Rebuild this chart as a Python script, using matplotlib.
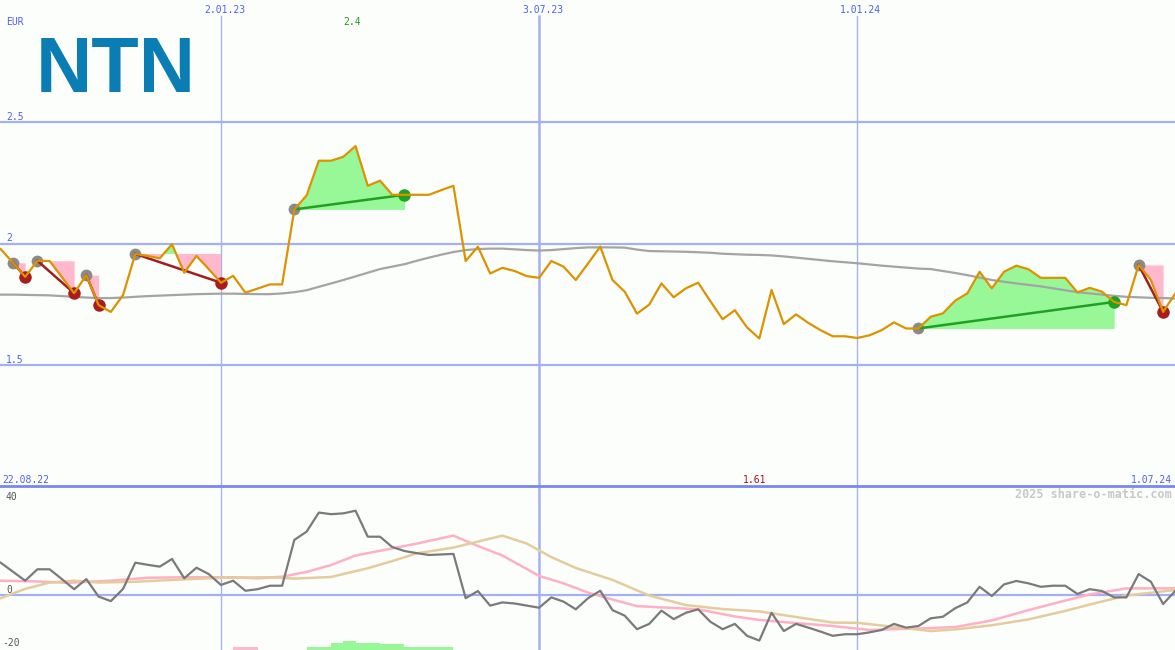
import numpy as np
import pandas as pd
import matplotlib
matplotlib.use("Agg")
import matplotlib.pyplot as plt
import matplotlib.dates as mdates
from matplotlib.lines import Line2D

# ---------------------------------------------------------
# -----------------------Data (weekly closes, EUR)
# ---------------------------------------------------------
price = [1.977, 1.921, 1.863, 1.929, 1.928, 1.862, 1.796, 1.870, 1.747, 1.719,
         1.788, 1.957, 1.949, 1.939, 1.997, 1.880, 1.949, 1.895, 1.839, 1.867,
         1.798, 1.815, 1.832, 1.832, 2.140, 2.197, 2.340, 2.340, 2.356, 2.400,
         2.237, 2.258, 2.200, 2.200, 2.200, 2.200, 2.219, 2.237, 1.928, 1.987,
         1.877, 1.900, 1.887, 1.866, 1.859, 1.928, 1.905, 1.850, 1.918, 1.987,
         1.850, 1.802, 1.712, 1.749, 1.836, 1.779, 1.816, 1.839, 1.763, 1.689,
         1.726, 1.655, 1.610, 1.809, 1.669, 1.709, 1.674, 1.644, 1.619, 1.619,
         1.612, 1.623, 1.644, 1.676, 1.651, 1.651, 1.699, 1.713, 1.765, 1.795,
         1.884, 1.816, 1.884, 1.909, 1.894, 1.859, 1.859, 1.859, 1.799, 1.818,
         1.802, 1.760, 1.747, 1.912, 1.850, 1.719, 1.795]

# long moving average (grey)
ma_long = [1.790, 1.790, 1.789, 1.788, 1.787, 1.784, 1.781, 1.778, 1.776, 1.776,
           1.778, 1.781, 1.784, 1.786, 1.788, 1.790, 1.792, 1.793, 1.794, 1.794,
           1.793, 1.792, 1.792, 1.795, 1.800, 1.808, 1.822, 1.836, 1.850, 1.865,
           1.880, 1.895, 1.905, 1.915, 1.929, 1.942, 1.954, 1.965, 1.973, 1.977,
           1.979, 1.979, 1.976, 1.973, 1.971, 1.973, 1.977, 1.981, 1.984, 1.984,
           1.984, 1.983, 1.975, 1.969, 1.968, 1.967, 1.966, 1.964, 1.962, 1.958,
           1.956, 1.954, 1.953, 1.951, 1.947, 1.942, 1.937, 1.932, 1.927, 1.923,
           1.919, 1.914, 1.909, 1.905, 1.901, 1.897, 1.895, 1.887, 1.879, 1.870,
           1.860, 1.850, 1.843, 1.836, 1.830, 1.824, 1.816, 1.808, 1.800, 1.795,
           1.790, 1.785, 1.781, 1.779, 1.777, 1.776, 1.774]

# signals: start / end week index
trade_start = [1, 3, 7, 11, 24, 75, 93]
trade_end = [2, 6, 8, 18, 33, 91, 95]

# oscillator panel
osc = [12.2, 8.8, 5.4, 9.7, 9.7, 6.0, 2.2, 6.0, -0.6, -2.3,
       2.3, 12.2, 11.4, 10.7, 13.6, 6.3, 10.3, 7.9, 3.8, 5.4,
       1.6, 2.2, 3.5, 3.5, 20.8, 23.9, 31.1, 30.5, 30.8, 31.8,
       22.0, 22.0, 18.1, 16.6, 15.8, 15.1, 15.3, 15.5, -1.2, 1.5,
       -4.0, -2.8, -3.2, -4.0, -4.8, -0.9, -2.5, -5.4, -1.2, 1.6,
       -5.7, -7.8, -12.9, -10.9, -5.9, -9.1, -6.7, -5.4, -10.1, -12.9,
       -10.9, -15.4, -17.2, -6.7, -13.6, -10.9, -12.3, -13.8, -15.4, -14.8,
       -14.8, -14.1, -13.2, -10.9, -12.3, -11.7, -8.8, -8.2, -5.0, -2.8,
       3.1, -0.4, 4.0, 5.3, 4.4, 3.1, 3.5, 3.5, 0.4, 2.2,
       1.5, -0.9, -0.9, 7.9, 5.0, -3.4, 1.6]

pink_weeks = [0, 3, 5.5, 9, 12, 15, 19, 21, 23, 25, 27, 29, 31, 34, 37, 39, 41, 43, 44,
              46, 48, 50, 52, 55, 57, 60, 62, 65, 68, 71, 73, 76, 78, 81, 84, 87, 89, 92, 96]
pink_vals = [5.4, 5.1, 4.6, 5.4, 6.5, 6.7, 6.7, 6.3, 6.9, 8.7, 11.3, 14.9, 16.7, 19.4, 22.4,
             18.5, 14.9, 9.8, 7.2, 4.4, 0.9, -1.7, -4.2, -4.9, -5.4, -8.1, -9.4, -10.6, -11.7,
             -13.2, -12.9, -12.5, -12.1, -9.6, -5.7, -2.1, 0.2, 2.5, 2.5]

tan_weeks = [0, 2, 4, 6, 8, 11, 14, 18, 22, 24, 27, 30, 32, 34, 37, 41, 43, 45, 47, 50,
             53, 56, 59, 62, 65, 68, 70, 73, 76, 78, 81, 84, 87, 89, 92, 96]
tan_vals = [-1.2, 2.3, 4.7, 5.4, 4.7, 5.0, 5.7, 6.5, 6.7, 6.2, 6.8, 10.1, 12.8, 15.7, 17.9,
            22.4, 19.4, 14.3, 10.2, 5.7, -0.2, -3.8, -5.3, -6.2, -8.3, -10.4, -10.5, -12.0,
            -13.6, -13.0, -11.4, -9.2, -6.0, -3.6, -0.2, 1.9]

bar_weeks = [19, 20, 25, 26, 27, 28, 29, 30, 31, 32, 33, 34, 35, 36]
bar_vals = [-19.6, -19.6, -19.5, -19.5, -18.2, -17.4, -18.2, -18.2, -18.5, -18.5,
            -19.7, -19.7, -19.7, -19.7]
bar_up = [False, False] + [True] * 12

weeks = pd.date_range("2022-08-29", periods=len(price), freq="7D")
x = mdates.date2num(weeks)
price = np.array(price)

# ---------------------------------------------------------
# -----------------------Figure
# ---------------------------------------------------------
bg = "#fcfefc"
plt.rcParams['font.family'] = 'DejaVu Sans Mono'
fig = plt.figure(figsize=(11.75, 6.5), dpi=100, facecolor=bg)
ax = fig.add_axes([0, 163 / 650, 1, 487 / 650])
ax2 = fig.add_axes([0, 0, 1, 163 / 650])

x_left = mdates.date2num(pd.Timestamp("2023-01-02")) - 126.4
x_right = x_left + 1175 / 1.748
for a in (ax, ax2):
    a.set_axis_off()
    a.set_xlim(x_left, x_right)
ax.set_ylim(1.0, 3.0)
ax2.set_ylim(-20.75, 40.75)

grid_blue = "#a4b0f4"
text_blue = "#5060f0"
for lvl in [2.5, 2.0, 1.5]:
    ax.axhline(lvl, color=grid_blue, lw=1.6, zorder=0.5)
    ax.text(0.005, lvl + 0.009, f"{lvl:g}", transform=ax.get_yaxis_transform(),
            fontsize=7, color=text_blue, va='baseline', ha='left')
ax2.axhline(0, color=grid_blue, lw=1.6, zorder=0.5)

# vertical date lines
vlines = [("2023-01-02", "2.01.23", 1.0), ("2023-07-03", "3.07.23", 1.8), ("2024-01-01", "1.01.24", 1.0)]
for d, lab, lw in vlines:
    dn = mdates.date2num(pd.Timestamp(d))
    col = "#a6b2ec" if lw < 1.5 else grid_blue
    ax.axvline(dn, ymax=0.967, color=col, lw=lw, zorder=0.5)
    ax2.axvline(dn, color=col, lw=lw, zorder=0.5)
    ax.text(dn + 2, 0.974, lab, transform=ax.get_xaxis_transform(), fontsize=7,
            color=text_blue, ha='center', va='baseline')

# separator
fig.add_artist(Line2D([0, 1], [1 - 486 / 650, 1 - 486 / 650], color="#7888f0", lw=2.0,
                      transform=fig.transFigure))

# --signal fills, lines and markers
pink = "#ffb8cc"
green_fill = "#98f898"
for s, e in zip(trade_start, trade_end):
    xs = x[s:e + 1]
    ps = price[s:e + 1]
    lvl = price[s]
    ax.fill_between(xs, lvl, ps, where=ps <= lvl, interpolate=True, color=pink, lw=0, zorder=1)
    ax.fill_between(xs, lvl, ps, where=ps >= lvl, interpolate=True, color=green_fill, lw=0, zorder=1)
    up = price[e] > lvl
    ax.plot(x[s], lvl, 'o', color="#8a8a8a", ms=8.5, mew=0, zorder=3)
    ax.plot(x[e], price[e], 'o', color="#22a022" if up else "#a81c1c", ms=9, mew=0, zorder=3)
    ax.plot([x[s], x[e]], [lvl, price[e]], color="#22a022" if up else "#a01e1e", lw=1.8, zorder=4)

ax.plot(x, ma_long, color="#a4a4a4", lw=1.6, zorder=2)
ax.plot(x, price, color="#dd9200", lw=1.6, zorder=5)

# --labels top panel
ax.text(0.005, 0.9487, "EUR", transform=ax.transAxes, fontsize=7, color=text_blue, va='baseline')
imax = int(np.argmax(price))
imin = int(np.argmin(price))
ax.text(x[imax] - 2, 0.9487, f"{price[imax]:g}", transform=ax.get_xaxis_transform(),
        fontsize=7, color="#229922", ha='center', va='baseline')
ax.text(x[imin] - 2.5, 0.0088, f"{price[imin]:g}", transform=ax.get_xaxis_transform(),
        fontsize=7, color="#aa1111", ha='center', va='baseline')
ax.text(2 / 1175, 0.0088, "22.08.22", transform=ax.transAxes, fontsize=7, color=text_blue, va='baseline')
ax.text(1172 / 1175, 0.0088, "1.07.24", transform=ax.transAxes, fontsize=7, color=text_blue,
        va='baseline', ha='right')

fig.text(36 / 1175, 1 - 92 / 650, "NTN", fontsize=56, fontweight='bold', family='Liberation Sans',
         color="#0a7db5", va='baseline', ha='left')

# ---------------------------------------------------------
# -----------------------Oscillator panel
# ---------------------------------------------------------
week_num = lambda w: x[0] + 7 * np.asarray(w, dtype=float)
ax2.bar([x[w] for w in bar_weeks], [v + 25 for v in bar_vals], bottom=-25, width=7, align='edge',
        color=[green_fill if u else pink for u in bar_up], lw=0, zorder=1)
ax2.plot(week_num(pink_weeks), pink_vals, color="#ffb0c4", lw=1.8, zorder=2)
ax2.plot(week_num(tan_weeks), tan_vals, color="#e4cc9c", lw=1.8, zorder=3)
ax2.plot(x, osc, color="#7a7a7a", lw=1.6, zorder=4)

for val, ypos, xpos in [(40, 0.920, 6), (0, 0.350, 6), (-20, 0.0245, 2)]:
    ax2.text(xpos / 1175, ypos, str(val), transform=ax2.transAxes, fontsize=7, color="#555555",
             va='baseline')
ax2.text(1172 / 1175, 0.9325, "2025 share-o-matic.com", transform=ax2.transAxes, fontsize=8.5,
         fontweight='bold', color="#c8c8c8", ha='right', va='baseline')

plt.savefig("out.png", dpi=100, facecolor=bg)
